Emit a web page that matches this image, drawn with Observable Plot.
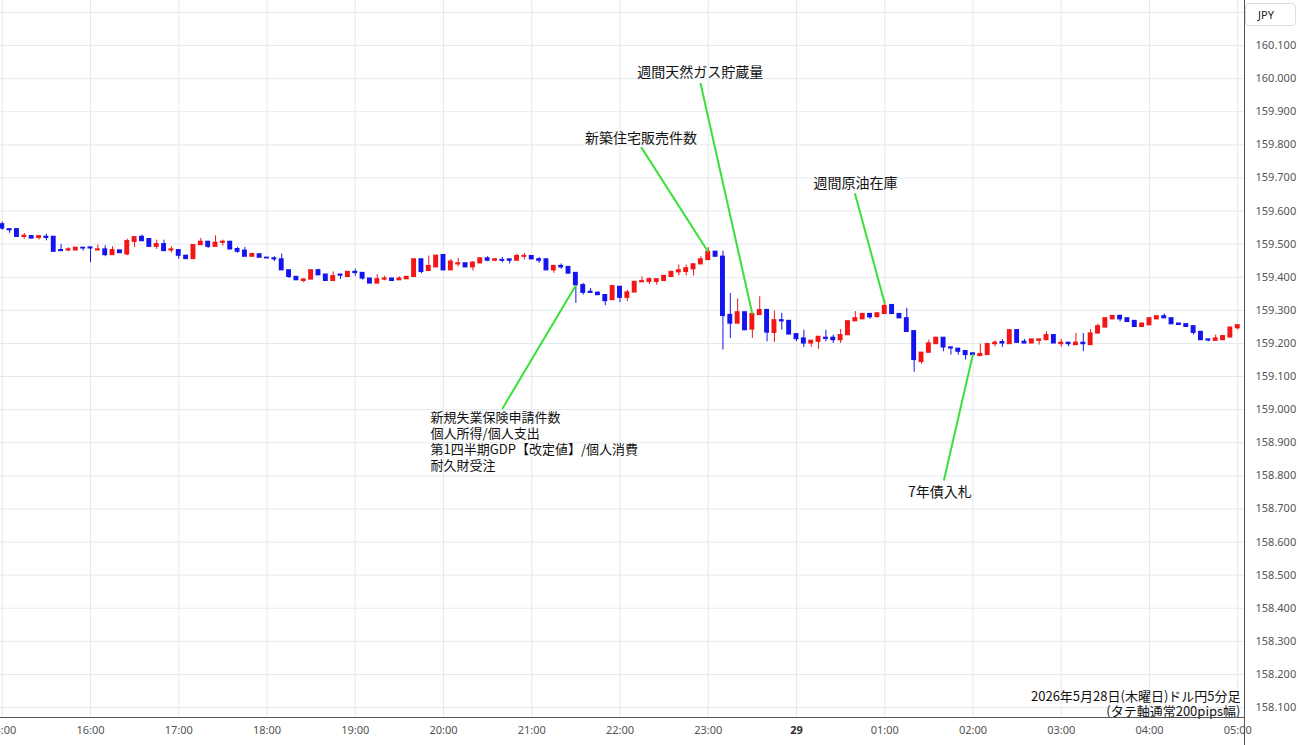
<!DOCTYPE html>
<html>
<head>
<meta charset="utf-8">
<script src="https://cdn.jsdelivr.net/npm/d3@7"></script>
<script src="https://cdn.jsdelivr.net/npm/@observablehq/plot@0.6"></script>
<style>
  html, body { margin: 0; padding: 0; background: #fff; }
  #wrap { position: relative; width: 1300px; height: 745px; overflow: hidden; }
  #jpy { position: absolute; left: 1245px; top: 3px; width: 51px; height: 23px; box-sizing: border-box;
         border: 1px solid #dcdcdc; border-radius: 4px; background: #fff;
         font: 11px "Noto Sans", "DejaVu Sans", sans-serif; color: #222;
         display: flex; align-items: center; padding-left: 12px; }
</style>
</head>
<body>
<div id="wrap"><div id="chart"></div><div id="jpy">JPY</div></div>
<script>
// ---- Data: USD/JPY 5-minute candles, 2026-05-28 15:00 → 2026-05-29 05:00 ----
const startTime = "15:00"; // first candle (5-minute bars)
const opens = [
159.560,159.545,159.545,159.522,159.524,159.519,159.522,159.522,159.482,159.481,159.481,159.489,
159.490,159.481,159.484,159.467,159.481,159.469,159.507,159.522,159.515,159.492,159.500,159.481,
159.482,159.465,159.455,159.497,159.507,159.492,159.504,159.507,159.485,159.480,159.462,159.469,
159.459,159.457,159.454,159.421,159.401,159.389,159.393,159.421,159.408,159.389,159.408,159.401,
159.416,159.413,159.396,159.381,159.393,159.396,159.391,159.394,159.401,159.454,159.419,159.430,
159.467,159.421,159.439,159.442,159.430,159.442,159.457,159.450,159.452,159.454,159.450,159.462,
159.464,159.454,159.454,159.421,159.434,159.431,159.413,159.376,159.356,159.353,159.346,159.331,
159.371,159.338,159.354,159.385,159.386,159.386,159.389,159.401,159.415,159.416,159.424,159.439,
159.452,159.477,159.462,159.286,159.260,159.294,159.242,159.286,159.301,159.232,159.270,159.268,
159.228,159.215,159.200,159.205,159.217,159.217,159.210,159.225,159.267,159.273,159.289,159.280,
159.289,159.316,159.289,159.276,159.237,159.144,159.172,159.198,159.217,159.188,159.184,159.177,
159.170,159.162,159.165,159.198,159.204,159.198,159.240,159.205,159.200,159.208,159.210,159.225,
159.198,159.202,159.195,159.202,159.195,159.230,159.248,159.273,159.283,159.276,159.268,159.250,
159.255,159.273,159.282,159.276,159.260,159.258,159.252,159.235,159.212,159.208,159.210,159.218,
159.246];
const highs = [
159.567,159.545,159.545,159.532,159.525,159.524,159.530,159.522,159.499,159.489,159.489,159.489,
159.490,159.497,159.495,159.492,159.481,159.515,159.521,159.527,159.515,159.512,159.512,159.492,
159.482,159.465,159.497,159.517,159.507,159.525,159.512,159.507,159.490,159.490,159.470,159.472,
159.459,159.462,159.470,159.421,159.401,159.396,159.421,159.424,159.408,159.416,159.408,159.416,
159.424,159.413,159.396,159.408,159.403,159.396,159.401,159.401,159.454,159.454,159.464,159.465,
159.467,159.454,159.457,159.442,159.447,159.457,159.462,159.457,159.460,159.454,159.470,159.472,
159.464,159.460,159.454,159.434,159.440,159.431,159.413,159.381,159.366,159.356,159.346,159.373,
159.371,159.361,159.386,159.401,159.398,159.394,159.404,159.418,159.437,159.437,159.439,159.462,
159.489,159.477,159.479,159.351,159.334,159.294,159.289,159.341,159.301,159.298,159.291,159.268,
159.228,159.240,159.208,159.220,159.240,159.225,159.242,159.267,159.296,159.289,159.289,159.291,
159.330,159.316,159.289,159.306,159.237,159.172,159.210,159.217,159.217,159.188,159.184,159.177,
159.170,159.198,159.198,159.208,159.212,159.240,159.240,159.212,159.212,159.212,159.235,159.225,
159.212,159.202,159.230,159.230,159.242,159.258,159.276,159.283,159.286,159.276,159.268,159.260,
159.276,159.282,159.289,159.276,159.260,159.258,159.252,159.235,159.212,159.225,159.222,159.248,
159.255];
const lows = [
159.542,159.533,159.522,159.515,159.516,159.512,159.510,159.477,159.479,159.477,159.481,159.479,
159.444,159.481,159.462,159.467,159.473,159.465,159.490,159.509,159.492,159.484,159.479,159.474,
159.454,159.455,159.455,159.497,159.487,159.492,159.494,159.484,159.472,159.462,159.462,159.459,
159.457,159.447,159.421,159.396,159.391,159.383,159.393,159.406,159.389,159.389,159.393,159.401,
159.403,159.391,159.381,159.381,159.389,159.389,159.391,159.394,159.401,159.411,159.419,159.430,
159.421,159.421,159.431,159.430,159.419,159.442,159.447,159.447,159.444,159.440,159.450,159.452,
159.454,159.442,159.421,159.412,159.424,159.411,159.321,159.346,159.351,159.346,159.314,159.331,
159.323,159.326,159.354,159.385,159.378,159.376,159.389,159.401,159.404,159.404,159.404,159.439,
159.452,159.462,159.180,159.215,159.260,159.240,159.215,159.286,159.205,159.203,159.240,159.227,
159.205,159.188,159.188,159.182,159.205,159.200,159.200,159.225,159.267,159.273,159.273,159.276,
159.289,159.289,159.276,159.235,159.113,159.137,159.172,159.198,159.175,159.165,159.165,159.150,
159.165,159.162,159.165,159.190,159.188,159.198,159.202,159.200,159.200,159.195,159.210,159.200,
159.188,159.190,159.195,159.175,159.195,159.230,159.248,159.273,159.265,159.265,159.250,159.250,
159.255,159.273,159.276,159.258,159.256,159.250,159.225,159.210,159.205,159.208,159.210,159.218,
159.240];
const closes = [
159.547,159.542,159.522,159.525,159.517,159.524,159.519,159.477,159.479,159.484,159.489,159.487,
159.487,159.484,159.467,159.482,159.473,159.509,159.521,159.509,159.492,159.500,159.479,159.484,
159.465,159.455,159.497,159.507,159.492,159.504,159.507,159.484,159.477,159.462,159.470,159.459,
159.457,159.454,159.421,159.401,159.391,159.393,159.421,159.406,159.389,159.403,159.405,159.416,
159.413,159.396,159.381,159.394,159.396,159.389,159.396,159.401,159.454,159.416,159.434,159.465,
159.421,159.447,159.442,159.430,159.444,159.457,159.450,159.454,159.450,159.450,159.464,159.464,
159.454,159.450,159.421,159.434,159.430,159.411,159.376,159.353,159.353,159.346,159.328,159.373,
159.338,159.354,159.386,159.388,159.394,159.394,159.404,159.416,159.421,159.427,159.439,159.454,
159.477,159.462,159.283,159.260,159.294,159.240,159.289,159.301,159.233,159.270,159.267,159.227,
159.213,159.200,159.208,159.220,159.214,159.210,159.225,159.267,159.276,159.289,159.279,159.291,
159.313,159.289,159.276,159.235,159.150,159.172,159.200,159.217,159.188,159.185,159.175,159.165,
159.165,159.168,159.198,159.202,159.200,159.240,159.202,159.200,159.212,159.212,159.225,159.200,
159.202,159.198,159.202,159.198,159.230,159.252,159.276,159.283,159.273,159.265,159.250,159.260,
159.276,159.282,159.276,159.258,159.256,159.250,159.232,159.210,159.209,159.215,159.222,159.248,
159.255];

// Axis ticks
const xTickLabels = ["15:00","16:00","17:00","18:00","19:00","20:00","21:00","22:00","23:00","00:00","01:00","02:00","03:00","04:00","05:00"];
const dayLabel = "29";
const yTicks = [158.1,158.2,158.3,158.4,158.5,158.6,158.7,158.8,158.9,159.0,159.1,159.2,159.3,159.4,159.5,159.6,159.7,159.8,159.9,160.0,160.1];
const yGrid = yTicks.concat([160.2]);

// Annotations (economic events)
const annLabels = ["新規失業保険申請件数\n個人所得/個人支出\n第1四半期GDP【改定値】/個人消費\n耐久財受注", "新築住宅販売件数", "週間天然ガス貯蔵量", "週間原油在庫", "7年債入札"];
const annEventTimes  = ["21:30", "23:00", "23:30", "01:00", "02:00"];
const annEventPrices = [159.376, 159.476, 159.289, 159.321, 159.168];
const annLineTimes   = ["20:39:54", "22:14:24", "22:54:42", "00:39:42", "01:40:12"];
const annLinePrices  = [159.002, 159.793, 159.987, 159.654, 158.786];
const annTextTimes   = ["19:51:12", "22:14:18", "22:54:30", "00:40:06", "01:37:30"];
const annTextPrices  = [158.996, 159.820, 160.019, 159.684, 158.750];

const captionText = "2026年5月28日(木曜日)ドル円5分足\n(タテ軸通常200pips幅)";

// ---- Build ----
const day0 = Date.UTC(2026, 4, 28);
function toDate(s) {
  const [h, m, sec] = s.split(":").map(Number);
  const dayOff = h < 15 ? 1 : 0;
  return new Date(day0 + dayOff * 86400000 + h * 3600000 + m * 60000 + (sec || 0) * 1000);
}
const t0 = toDate(startTime);
const candles = opens.map((o, i) => ({
  t: new Date(+t0 + i * 300000), o, h: highs[i], l: lows[i], c: closes[i], up: closes[i] >= o
}));
const ann = annLabels.map((label, i) => ({
  label,
  et: toDate(annEventTimes[i]), ep: annEventPrices[i],
  lt: toDate(annLineTimes[i]), lp: annLinePrices[i],
  tt: toDate(annTextTimes[i]), tp: annTextPrices[i],
  multi: label.includes("\n")
}));

const xTicks = xTickLabels.map(toDate);
const midnight = xTicks.filter(d => d.getUTCHours() === 0);
const hourTicks = xTicks.filter(d => d.getUTCHours() !== 0);

const RED = "#f21616", BLUE = "#1414ee", GREEN = "#3ae03a", GRID = "#e3eaf0";
const jpFont = "'Noto Sans CJK JP', 'Noto Sans', sans-serif";
const xEnd = new Date(+t0 + 844.6 * 60000);

const chart = Plot.plot({
  width: 1300, height: 745,
  marginLeft: 0, marginRight: 56, marginTop: 0, marginBottom: 28,
  style: { fontFamily: "'Noto Sans', 'DejaVu Sans', sans-serif", fontSize: "11px", background: "#fff", color: "#555" },
  x: { type: "utc", domain: [new Date(+t0 - 71400), xEnd] },
  y: { domain: [158.070, 160.236] },
  marks: [
    Plot.gridX(xTicks, { stroke: GRID, strokeOpacity: 1 }),
    Plot.gridY(yGrid, { stroke: GRID, strokeOpacity: 1 }),
    Plot.ruleX(candles, { x: "t", y1: "l", y2: "h", stroke: d => d.up ? RED : BLUE, strokeWidth: 1 }),
    Plot.rect(candles, {
      x1: d => new Date(+d.t - 100000), x2: d => new Date(+d.t + 100000),
      y1: "o", y2: "c", fill: d => d.up ? RED : BLUE, insetTop: -0.6, insetBottom: -0.6
    }),
    Plot.link(ann, { x1: "lt", y1: "lp", x2: "et", y2: "ep", stroke: GREEN, strokeWidth: 2 }),
    Plot.text(ann.filter(d => !d.multi), { x: "tt", y: "tp", text: "label", fontSize: 14, fontFamily: jpFont, fill: "#111", textAnchor: "middle" }),
    Plot.text(ann.filter(d => d.multi), { x: "tt", y: "tp", text: "label", fontSize: 13, fontFamily: jpFont, fill: "#111", textAnchor: "start", lineAnchor: "top", lineHeight: 1.22 }),
    Plot.text([captionText], { text: d => d, frameAnchor: "bottom-right", dx: -4, dy: -2, textAnchor: "end", lineAnchor: "bottom", lineHeight: 1.15, fontSize: 13, fontFamily: jpFont, fill: "#111" }),
    Plot.axisY(yTicks, { anchor: "right", tickSize: 0, tickPadding: 11, tickFormat: d3.format(".3f"), fontSize: 11, fill: "#555", label: null }),
    Plot.axisX(hourTicks, { tickSize: 0, tickPadding: 9, fontSize: 11, fill: "#555", label: null,
      tickFormat: d => String(d.getUTCHours()).padStart(2, "0") + ":00" }),
    Plot.axisX(midnight, { tickSize: 0, tickPadding: 9, fontSize: 11, fill: "#333", fontWeight: "bold", label: null, tickFormat: () => dayLabel }),
    Plot.ruleY([158.070], { stroke: "#555", strokeWidth: 1 }),
    Plot.ruleX([xEnd], { stroke: "#555", strokeWidth: 1, insetBottom: -28 })
  ]
});
document.getElementById("chart").appendChild(chart);
</script>
</body>
</html>
